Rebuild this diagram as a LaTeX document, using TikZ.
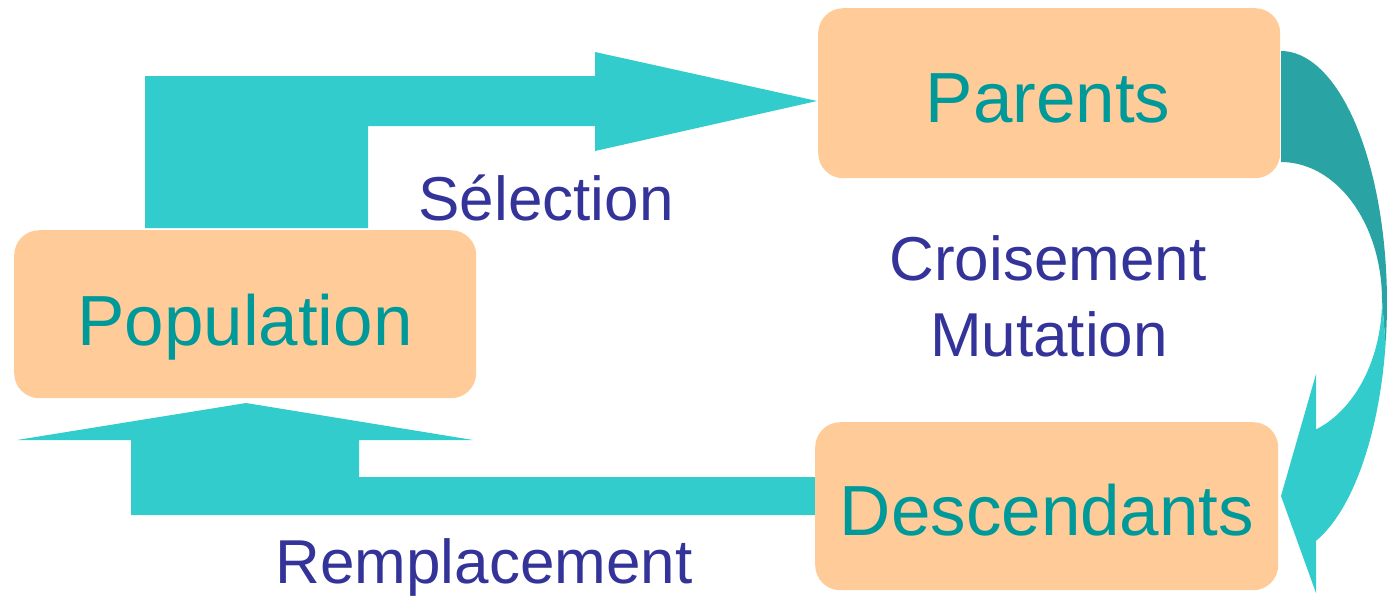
\documentclass[tikz,border=0pt]{standalone}
\usepackage{fontspec}
\setmainfont{Liberation Sans}
\definecolor{peach}{HTML}{FFCC99}
\definecolor{tealtext}{HTML}{009999}
\definecolor{navy}{HTML}{333399}
\definecolor{arrowc}{HTML}{33CCCC}
\definecolor{arrowd}{HTML}{29A3A3}
\begin{document}
\begin{tikzpicture}[x=1pt,y=-1pt,
  box/.style={fill=peach, draw=none, rounded corners=25pt, inner sep=0pt, anchor=north west},
  boxtext/.style={text=tealtext, font=\fontsize{71}{80}\selectfont, anchor=base, inner sep=0pt},
  lbl/.style={text=navy, font=\fontsize{62}{72}\selectfont, anchor=base, inner sep=0pt},
  blockarrow/.style={fill=arrowc, draw=none}]
\useasboundingbox (0,0) rectangle (1387,595);

% boxes (positions only, drawn later on top of arrows)
\path (818,8) coordinate (parNW);
\path (14,230) coordinate (popNW);
\path (815,422) coordinate (desNW);

% Selection arrow: Population -> Parents
\fill[blockarrow] (145,228) -- (145,76) -- (595,76) -- (595,52) -- (817,101)
  -- (595,151) -- (595,126) -- (368,126) -- (368,228) -- cycle;

% Replacement arrow: Descendants -> Population
\fill[blockarrow] (820,477) -- (359,477) -- (359,440) -- (473,440) -- (246,403)
  -- (17,440) -- (131,440) -- (131,515) -- (820,515) -- cycle;

% Curved arrow: Parents -> Descendants (back part, darker)
\fill[arrowd] plot[domain=90:-9.4, samples=40, variable=\t] ({1281+106*cos(\t)}, {303-252*sin(\t)})
  -- (1382,300)
  -- plot[domain=0:90, samples=30, variable=\t] ({1281+101*cos(\t)}, {300-138*sin(\t)})
  -- cycle;
% front part with head
\fill[arrowc] plot[domain=-9.4:-70.7, samples=40, variable=\t] ({1281+106*cos(\t)}, {303-252*sin(\t)})
  -- (1316,593) -- (1281,496) -- (1316,374) -- (1316,429)
  -- plot[domain=-69.7:0, samples=30, variable=\t] ({1281+101*cos(\t)}, {300-138*sin(\t)})
  -- cycle;

% boxes
\node[box, minimum width=462pt, minimum height=170pt] (par) at (parNW) {};
\node[box, minimum width=462pt, minimum height=168pt] (pop) at (popNW) {};
\node[box, minimum width=463pt, minimum height=168pt] (des) at (desNW) {};

% box texts
\node[boxtext] (partxt) at (1048,122) {Parents};
\node[boxtext] (poptxt) at (245,345) {Population};
\node[boxtext] (destxt) at (1047,535) {Descendants};

% labels
\node[lbl] (sel) at (546,220) {Sélection};
\node[lbl] (cro) at (1048,280) {Croisement};
\node[lbl] (mut) at (1049,356) {Mutation};
\node[lbl] (rem) at (484,583) {Remplacement};
\end{tikzpicture}
\end{document}
